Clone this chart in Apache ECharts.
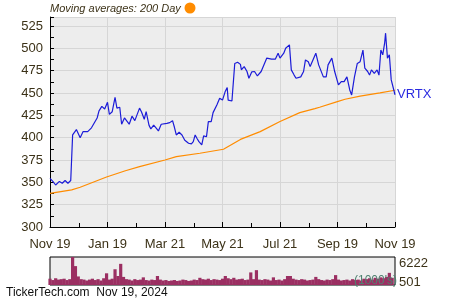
<!DOCTYPE html>
<html><head><meta charset="utf-8">
<script src="https://cdn.jsdelivr.net/npm/echarts@6/dist/echarts.min.js"></script>
<style>html,body{margin:0;padding:0;background:#fff}#c{width:450px;height:300px}</style>
</head><body><div id="c"></div>
<script>
// x positions are day offsets from Nov 19, 2023
const xTickLabels = ['Nov 19','Jan 19','Mar 21','May 21','Jul 21','Sep 19','Nov 19'];
const priceDays = [0,3,6,10,13,16,19,22,24,28,32,34,35,40,44,50,52,55,58,61,63,66,69,71,74,76,79,81,84,87,90,95,97,100,102,105,107,110,112,115,118,120,124,127,130,132,134,137,140,143,147,150,152,154,156,158,161,163,166,168,171,173,175,177,180,183,186,188,189,193,196,199,202,203,206,209,211,214,217,220,224,226,230,232,235,239,242,244,248,250,254,256,259,261,263,266,269,271,274,276,278,282,285,286,290,293,295,299,302,306,309,312,315,318,320,323,326,329,332,334,337,339,341,344,347,349,351,353,355,356,358,360,362,364,366];
const priceValues = [354.5,351,347,351,349,352,349,352,403,409,400,399.6,406.7,406.7,411,422,430,435,432,439.6,426,429,445,433,434,415,422,421.7,415,424,419,433,429,420.6,429,414,409.7,414,411.6,407.5,415,414,416,416.8,419,411.6,403,406,403,397,393.7,393,395.5,403,399,395.5,391.8,402,401,418,418,428,428,436.6,444,442,452,456,442,441,483,484.4,482,476,479.5,474,466.5,473.5,474,469,474,472,489,490,487.8,487.8,494.5,489,494.5,500,503.8,475.8,470,466.5,464.6,468,474,487,485,479.5,481.4,494.5,481.4,479.5,468,468,481.4,489,474,459,462.7,462.7,468,453.4,447.8,468,483,485,498,477.7,474,470,475.8,472,475.8,470,498,492.6,505.7,516.9,489,492.6,464.6,466.5,448];
const maDays = [0,23,32,60,80,95,122,134,159,184,202,223,244,265,281,286,304,313,329,350,366];
const maValues = [337.7,341.5,344.5,356,363,367.5,375,378.7,382.5,387,398,406.7,418,428,432.5,434,440,443,446.5,450,453];
const volDays = [0,3,6,9,12,15,18,21,24,27,30,33,36,39,42,45,48,51,54,57,60,63,66,69,72,75,78,81,84,87,90,93,96,99,102,105,108,111,114,117,120,123,126,129,132,135,138,141,144,147,150,153,156,159,162,165,168,171,174,177,180,183,186,189,192,195,198,201,204,207,210,213,216,219,222,225,228,231,234,237,240,243,246,249,252,255,258,261,264,267,270,273,276,279,282,285,288,291,294,297,300,303,306,309,312,315,318,321,324,327,330,333,336,339,342,345,348,351,354,357,360,363];
const volValues = [1400,1100,1500,1200,1300,1400,1100,1300,6222,4200,1900,1300,1200,1000,1200,1400,1100,1300,1000,1500,2600,1200,1400,3500,2000,4700,1800,1300,1200,1000,1300,1100,1200,1700,1100,1000,1200,1100,2000,1200,1000,1100,900,1000,1100,900,1000,1200,1100,900,1000,1200,1100,1600,1300,1200,1400,1100,1300,1200,1100,1400,2000,1500,1300,1600,1200,1300,1400,1100,1200,2800,1300,3300,1200,1100,1300,1200,1000,1700,1100,1200,1000,1300,2000,2000,1400,1200,1100,1300,1200,1000,1100,1200,1800,1300,1100,1000,1200,1100,1300,2200,1200,1000,1100,1200,1000,1300,1100,1200,1000,1400,1300,1500,1200,1600,1400,1700,1500,1800,2700,1600];
const volLabels = [501, 6222];
const yTicks = {min: 300, max: 535, interval: 25};
const dayMax = 366, dayStep = 61;

const txt = '#3c3218';
const font = 'Liberation Sans, Arial, sans-serif';
const chart = echarts.init(document.getElementById('c'), null, {renderer: 'canvas'});
chart.setOption({
  animation: false,
  backgroundColor: '#fff',
  textStyle: {fontFamily: font},
  grid: [
    {left: 50, right: 55, top: 17, height: 210, show: true, backgroundColor: '#ededed', borderWidth: 0},
    {left: 50, right: 55, top: 257, height: 28, show: true, backgroundColor: '#ededed', borderColor: '#000', borderWidth: 1}
  ],
  xAxis: [
    {type: 'value', gridIndex: 0, min: 0, max: dayMax, interval: dayStep,
     axisLine: {show: true, onZero: false, lineStyle: {color: '#000', width: 1}},
     axisTick: {show: true, inside: true, length: 5, lineStyle: {color: '#000'}},
     minorTick: {show: true, splitNumber: 2, length: 4, lineStyle: {color: '#000'}},
     splitLine: {show: true, lineStyle: {color: '#d6d6d6', width: 1}},
     axisLabel: {color: txt, fontSize: 13, fontFamily: font, margin: 11,
       formatter: v => xTickLabels[Math.round(v / dayStep)] || ''}},
    {type: 'value', gridIndex: 1, min: 0, max: dayMax,
     axisLine: {show: false}, axisTick: {show: false}, axisLabel: {show: false}, splitLine: {show: false}}
  ],
  yAxis: [
    {type: 'value', gridIndex: 0, min: yTicks.min, max: yTicks.max, interval: yTicks.interval,
     axisLine: {show: true, lineStyle: {color: '#000', width: 1}},
     axisTick: {show: true, inside: true, length: 4, lineStyle: {color: '#000'}},
     minorTick: {show: true, splitNumber: 2, length: 4, lineStyle: {color: '#000'}},
     splitLine: {show: true, lineStyle: {color: '#d6d6d6', width: 1}},
     axisLabel: {color: txt, fontSize: 13, fontFamily: font, margin: 7, showMaxLabel: false}},
    {type: 'value', gridIndex: 1, position: 'right', min: 0, max: 6222,
     axisLine: {show: false}, axisTick: {show: false}, splitLine: {show: false},
     axisLabel: {show: true, customValues: volLabels, color: txt, fontSize: 13, fontFamily: font, margin: 4,
       formatter: v => v === 6222 ? '{a|6222}' : '{b|' + v + '}',
       rich: {a: {padding: [12, 0, 0, 0], fontSize: 13, color: txt}, b: {fontSize: 13, color: txt}}}}
  ],
  series: [
    {type: 'bar', xAxisIndex: 1, yAxisIndex: 1, barWidth: 3.2, itemStyle: {color: '#9b2f62'},
     data: volDays.map((d, i) => [d, volValues[i]]), silent: true},
    {type: 'line', xAxisIndex: 0, yAxisIndex: 0, showSymbol: false, lineStyle: {color: '#ff8c00', width: 1.2},
     data: maDays.map((d, i) => [d, maValues[i]]), silent: true},
    {type: 'line', xAxisIndex: 0, yAxisIndex: 0, showSymbol: false, lineStyle: {color: '#1c1cd8', width: 1.2},
     data: priceDays.map((d, i) => [d, priceValues[i]]), silent: true,
     endLabel: {show: true, formatter: 'VRTX', color: '#2a2ae0', fontSize: 13, fontFamily: font, distance: 2}}
  ],
  graphic: [
    {type: 'text', left: 50, top: 3, style: {text: 'Moving averages: 200 Day', fill: txt, font: 'italic 11px ' + font}},
    {type: 'circle', shape: {cx: 190, cy: 8, r: 5.5}, style: {fill: '#ff8c00'}},
    {type: 'text', left: 354, top: 275, z: 100, style: {text: "(1000's)", fill: '#4f8070', font: '12px ' + font}},
    {type: 'text', left: 6, top: 287, style: {text: 'TickerTech.com  Nov 19, 2024', fill: '#111', font: '12px ' + font}}
  ]
});
</script></body></html>
